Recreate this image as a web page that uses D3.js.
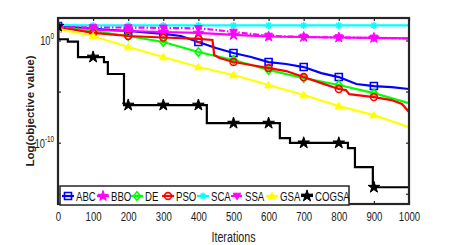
<!DOCTYPE html>
<html><head><meta charset="utf-8">
<script src="https://cdn.jsdelivr.net/npm/d3@7"></script>
<style>
body{margin:0;background:#fff;}
text{font-family:"Liberation Sans",Arial,sans-serif;}
</style></head><body>
<svg id="c" width="452" height="245"></svg>
<script>
// ---- data (log10 of objective value) ----
const xTicks = [0,100,200,300,400,500,600,700,800,900,1000];
const yTickExps = [0,-5,-10,-15];
const yLabeledExps = [0,-10];
const seriesNames = ["ABC","BBO","DE","PSO","SCA","SSA","GSA","COGSA"];

const abcIter = [0,100,200,300,350,400,450,500,550,600,650,700,750,800,850,900,950,1000];
const abcExp  = [1.42,1.13,0.93,0.64,0.44,-0.15,-0.74,-1.23,-1.62,-2.11,-2.3,-2.6,-3.19,-3.58,-4.26,-4.46,-4.56,-4.75];

const bboIter = [0,100,200,300,400,500,600,700,800,900,1000];
const bboExp  = [1.23,1.03,0.93,0.83,0.74,0.54,0.39,0.34,0.29,0.25,0.2];

const deIter = [0,100,200,300,400,500,600,700,800,900,1000];
const deExp  = [1.32,0.93,0.44,-0.15,-1.13,-1.91,-2.89,-3.68,-4.36,-5.15,-6.13];

const psoIter = [0,100,200,300,400,440,445,460,500,550,600,650,700,750,800,820,830,900,950,980,1000];
const psoExp  = [1.32,0.74,0.44,0.29,0.15,0.05,-1.42,-1.72,-2.11,-2.4,-2.7,-2.99,-3.58,-4.17,-4.75,-4.85,-5.25,-5.54,-5.83,-6.22,-7.0];

const scaIter = [0,100,200,300,400,500,600,700,800,900,1000];
const scaExp  = [1.5,1.47,1.47,1.47,1.47,1.47,1.47,1.47,1.47,1.47,1.47];

const ssaIter = [0,100,200,300,400,450,500,550,600,700,800,900,1000];
const ssaExp  = [1.32,1.27,1.27,1.23,1.18,1.03,0.83,0.64,0.44,0.34,0.29,0.25,0.2];

const gsaIter = [0,100,200,300,400,500,600,700,800,900,1000];
const gsaExp  = [1.13,0.44,-0.64,-1.62,-2.6,-3.38,-4.36,-5.34,-6.42,-7.3,-8.48];

const cogsaIter = [0,1,28,57,131,142,188,424,632,661,826,846,897,1000];
const cogsaExp  = [1.4,0.12,-0.12,-1.62,-2.11,-3.28,-6.32,-8.09,-9.56,-10.02,-10.54,-12.4,-14.36,-14.36];
const cogsaStep = true;

const markerIters = [0,100,200,300,400,500,600,700,800,900];

// ---- styles ----
const colors = {ABC:"#0000ff",BBO:"#ff00ff",DE:"#00ff00",PSO:"#ff0000",SCA:"#00ffff",SSA:"#ff00ff",GSA:"#ffff00",COGSA:"#000000"};
const series = [
 {name:"ABC",iter:abcIter,exp:abcExp,marker:"square"},
 {name:"BBO",iter:bboIter,exp:bboExp,marker:"plus"},
 {name:"DE",iter:deIter,exp:deExp,marker:"diamond"},
 {name:"PSO",iter:psoIter,exp:psoExp,marker:"circle"},
 {name:"SCA",iter:scaIter,exp:scaExp,marker:"asterisk"},
 {name:"SSA",iter:ssaIter,exp:ssaExp,marker:"tridown",dash:"6,2,1.5,2"},
 {name:"GSA",iter:gsaIter,exp:gsaExp,marker:"triup"},
 {name:"COGSA",iter:cogsaIter,exp:cogsaExp,marker:"star",step:cogsaStep}
];

const SX=0.74; // horizontal condensing of the narrow font
const L=58,R=409,T=18,B=204;
const svg=d3.select("#c");
const x=d3.scaleLinear().domain([0,1000]).range([L,R]);
const y=d3.scaleLog().domain([1e-16,Math.pow(10,2.2)]).range([B,T]);

const g=svg.append("g");
svg.append("clipPath").attr("id","pc").append("rect").attr("x",L).attr("y",T).attr("width",R-L).attr("height",B-T);
const plot=g.append("g").attr("clip-path","url(#pc)");

function markerPath(type,s){
  const h=s/2;
  switch(type){
    case "square": return `M${-h},${-h}h${s}v${s}h${-s}Z`;
    case "diamond": return `M0,${-h*1.2}L${h},0L0,${h*1.2}L${-h},0Z`;
    case "circle": return d3.symbol(d3.symbolCircle,s*s*0.75)();
    case "triup": return `M0,${-h*1.1}L${h*1.1},${h*0.8}L${-h*1.1},${h*0.8}Z`;
    case "tridown": return `M0,${h*1.1}L${h*1.1},${-h*0.8}L${-h*1.1},${-h*0.8}Z`;
    case "star": return d3.symbol(d3.symbolStar,42)();
    case "plus": return d3.symbol(d3.symbolStar,34)();
    case "asterisk": return `M${-h},0H${h}M0,${-h}V${h}M${-h*0.7},${-h*0.7}L${h*0.7},${h*0.7}M${-h*0.7},${h*0.7}L${h*0.7},${-h*0.7}`;
  }
}
function drawMarker(sel,type,color,cx,cy,s){
  const p=sel.append("path").attr("d",markerPath(type,s)).attr("transform",`translate(${cx},${cy})`);
  if(type==="square"||type==="circle"||type==="diamond"){
    p.attr("fill","none").attr("stroke",color).attr("stroke-width",1.6);
  } else if(type==="asterisk"){
    p.attr("fill","none").attr("stroke",color).attr("stroke-width",1.5);
  } else {
    p.attr("fill",color).attr("stroke",color).attr("stroke-width",1);
  }
}
function valAt(s,it){
  const ii=s.iter, ee=s.exp;
  for(let k=0;k<ii.length-1;k++){
    if(it>=ii[k]&&it<=ii[k+1]){
      if(s.step) return ee[k];
      const t=(it-ii[k])/(ii[k+1]-ii[k]);
      return ee[k]+t*(ee[k+1]-ee[k]);
    }
  }
  return ee[ee.length-1];
}

series.forEach(s=>{
  const pts=s.iter.map((it,i)=>[it,Math.pow(10,s.exp[i])]);
  const line=d3.line().x(d=>x(d[0])).y(d=>y(d[1])).curve(s.step?d3.curveStepAfter:d3.curveLinear);
  plot.append("path").datum(pts).attr("d",line).attr("fill","none")
    .attr("stroke",colors[s.name]).attr("stroke-width",2.2)
    .attr("stroke-dasharray",s.dash||null).attr("stroke-linejoin","miter");
  markerIters.forEach(it=>{
    drawMarker(plot,s.marker,colors[s.name],x(it),y(Math.pow(10,valAt(s,it))),7);
  });
});

// ---- axes box ----
const ax=svg.append("g");
const xAxB=d3.axisBottom(x).tickValues(xTicks).tickSize(-3).tickPadding(8).tickFormat(d3.format("d"));
const xAxT=d3.axisTop(x).tickValues(xTicks).tickSize(-3).tickFormat("");
const yVals=yTickExps.map(e=>Math.pow(10,e));
const yAxL=d3.axisLeft(y).tickValues(yVals).tickSize(-3).tickFormat("");
const yAxR=d3.axisRight(y).tickValues(yVals).tickSize(-3).tickFormat("");
ax.append("g").attr("transform",`translate(0,${B})`).call(xAxB);
ax.append("g").attr("transform",`translate(0,${T})`).call(xAxT);
ax.append("g").attr("transform",`translate(${L},0)`).call(yAxL);
ax.append("g").attr("transform",`translate(${R},0)`).call(yAxR);
ax.selectAll(".domain").remove();
ax.selectAll(".tick line").attr("stroke","#262626").attr("stroke-width",1.2);
ax.selectAll(".tick text").attr("font-size",13).attr("fill","#222")
  .attr("transform",`scale(${SX},1)`);
svg.append("rect").attr("x",L).attr("y",T).attr("width",R-L).attr("height",B-T)
  .attr("fill","none").attr("stroke","#262626").attr("stroke-width",2.2);

// y tick labels 10^n
yLabeledExps.forEach(e=>{
  const t=svg.append("text").attr("transform",`translate(${L-4},${y(Math.pow(10,e))+5}) scale(${SX},1)`)
    .attr("text-anchor","end").attr("font-size",12.5).attr("fill","#222");
  t.append("tspan").text("10");
  t.append("tspan").attr("font-size",8.5).attr("dy",-6).text(String(e));
});

// axis labels
svg.append("text").attr("transform",`translate(${(L+R)/2},242) scale(${SX},1)`).attr("text-anchor","middle")
  .attr("font-size",14.5).attr("fill","#222").text("Iterations");
svg.append("text").attr("transform",`translate(34,111) rotate(-90)`).attr("text-anchor","middle")
  .attr("font-size",11.5).attr("font-weight","bold").attr("fill","#222").text("Log(objective value)");

// legend
const lg=svg.append("g");
lg.append("rect").attr("x",60).attr("y",186).attr("width",289).attr("height",19)
  .attr("fill","#fff").attr("stroke","#262626").attr("stroke-width",1.5);
const legX=[62,97,131,162,197,231,266,301];
series.forEach((s,i)=>{
  const x0=legX[i];
  lg.append("line").attr("x1",x0).attr("x2",x0+12).attr("y1",196).attr("y2",196)
    .attr("stroke",colors[s.name]).attr("stroke-width",2.2).attr("stroke-dasharray",s.dash?"4,1,1,1":null);
  drawMarker(lg,s.marker,colors[s.name],x0+6,196,7);
  lg.append("text").attr("transform",`translate(${x0+14},200.5) scale(${SX},1)`)
    .attr("font-size",13).attr("font-weight","500").attr("fill","#111").text(s.name);
});
</script></body></html>
